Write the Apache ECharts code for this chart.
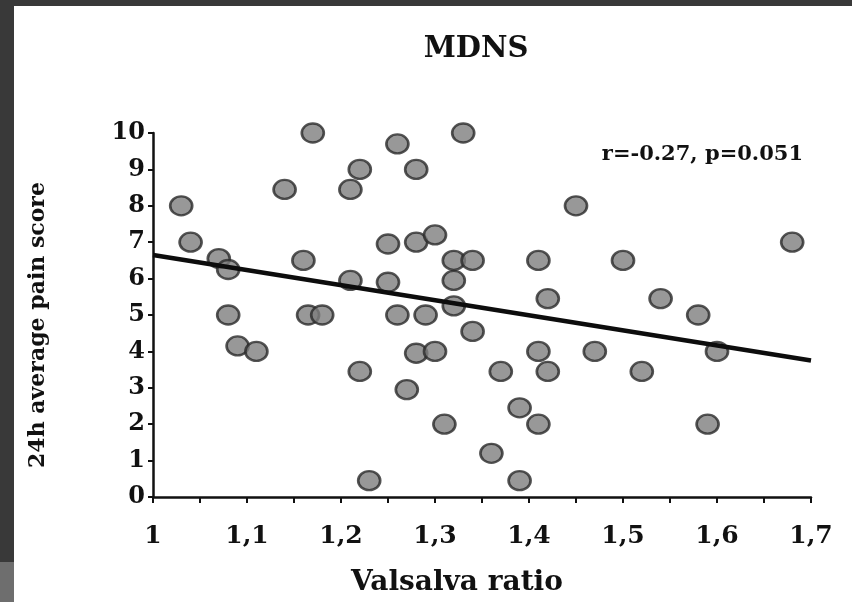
<!DOCTYPE html>
<html>
<head>
<meta charset="utf-8">
<script src="https://cdn.jsdelivr.net/npm/echarts@6/dist/echarts.min.js"></script>
<style>
  html, body { margin: 0; padding: 0; }
  body { width: 852px; height: 602px; background: #393939; position: relative; overflow: hidden; }
  #paper { position: absolute; left: 14px; top: 6px; width: 838px; height: 596px; background: #fff; }
  #check { position: absolute; left: 0; top: 562px; width: 14px; height: 40px; background: #6e6e6e; }
  #main { position: absolute; left: 0; top: 0; width: 852px; height: 602px; }
</style>
</head>
<body>
<div id="paper"></div>
<div id="check"></div>
<div id="main"></div>
<script>
// Valsalva ratio (x) and 24h average pain score (y)
const valsalva = [
    1.03, 1.04, 1.07, 1.08, 1.08, 1.09, 1.11, 1.14, 1.16, 1.17,
    1.165, 1.18, 1.21, 1.22, 1.21, 1.22, 1.23, 1.25, 1.25, 1.26,
    1.26, 1.28, 1.28, 1.28, 1.27, 1.29, 1.30, 1.30, 1.31, 1.32,
    1.32, 1.32, 1.33, 1.34, 1.34, 1.36, 1.37, 1.39, 1.39, 1.41,
    1.41, 1.41, 1.42, 1.42, 1.45, 1.47, 1.50, 1.52, 1.54, 1.58,
    1.59, 1.60, 1.68
]
const painScore = [
    8, 7, 6.55, 6.25, 5, 4.15, 4, 8.45, 6.5, 10,
    5, 5, 8.45, 9, 5.95, 3.45, 0.45, 6.95, 5.9, 5,
    9.7, 9, 7, 3.95, 2.95, 5, 7.2, 4, 2, 6.5,
    5.95, 5.25, 10, 6.5, 4.55, 1.2, 3.45, 2.45, 0.45, 6.5,
    4, 2, 5.45, 3.45, 8, 4, 6.5, 3.45, 5.45, 5,
    2, 4, 7
]
// fitted line end points
const fitX = [1.0, 1.7]
const fitY = [6.65, 3.75]

const xTicks = { min: 1, max: 1.7, interval: 0.1 }
const yTicks = { min: 0, max: 10, interval: 1 }

const serif = 'DejaVu Serif'

const points = valsalva.map((v, i) => [v, painScore[i]])
const fit = fitX.map((v, i) => [v, fitY[i]])

const myChart = echarts.init(document.getElementById('main'), null, { renderer: 'canvas' })

const option = {
    backgroundColor: 'transparent',
    animation: false,
    title: [
        {
            text: 'MDNS',
            left: 471,
            top: 30,
            textAlign: 'center',
            textStyle: { fontFamily: serif, fontWeight: 'bold', fontSize: 29, color: '#111' }
        },
        {
            text: 'r=-0.27, p=0.051',
            right: 44,
            top: 139,
            textStyle: { fontFamily: serif, fontWeight: 'bold', fontSize: 21, color: '#111' }
        }
    ],
    grid: {
        left: 153,
        right: 41,
        top: 133,
        bottom: 102
    },
    xAxis: {
        type: 'value',
        min: xTicks.min,
        max: xTicks.max,
        interval: xTicks.interval,
        name: 'Valsalva ratio',
        nameLocation: 'middle',
        nameGap: 72,
        nameTextStyle: {
            fontFamily: serif, fontWeight: 'bold', fontSize: 28, color: '#111',
            padding: [0, 50, 0, 0]
        },
        splitLine: { show: false },
        axisLine: { lineStyle: { color: '#111', width: 2.5 } },
        axisTick: { length: 6, lineStyle: { color: '#111', width: 2 } },
        minorTick: { show: true, splitNumber: 2, length: 6, lineStyle: { color: '#111', width: 2 } },
        axisLabel: {
            margin: 27,
            fontFamily: serif, fontWeight: 'bold', fontSize: 25, color: '#111',
            formatter: v => String(Math.round(v * 10) / 10).replace('.', ',')
        }
    },
    yAxis: {
        type: 'value',
        min: yTicks.min,
        max: yTicks.max,
        interval: yTicks.interval,
        name: '24h average pain score',
        nameLocation: 'middle',
        nameGap: 104,
        nameTextStyle: {
            fontFamily: serif, fontWeight: 'bold', fontSize: 22, color: '#111',
            padding: [0, 20, 0, 0]
        },
        splitLine: { show: false },
        axisLine: { show: true, lineStyle: { color: '#111', width: 2.5 } },
        axisTick: { show: true, length: 5, lineStyle: { color: '#111', width: 2 } },
        axisLabel: {
            margin: 8,
            fontFamily: serif, fontWeight: 'bold', fontSize: 24, color: '#111'
        }
    },
    series: [
        {
            name: 'patients',
            type: 'scatter',
            data: points,
            symbol: 'circle',
            symbolSize: [22, 19],
            itemStyle: { color: '#7e7e7e', borderColor: '#2b2b2b', borderWidth: 2.5 },
            z: 2
        },
        {
            name: 'fit',
            type: 'line',
            data: fit,
            symbol: 'none',
            lineStyle: { color: '#0d0d0d', width: 4.5 },
            z: 3
        }
    ]
}

myChart.setOption(option)
window.onresize = function () {
    myChart.resize()
}
</script>
</body>
</html>
